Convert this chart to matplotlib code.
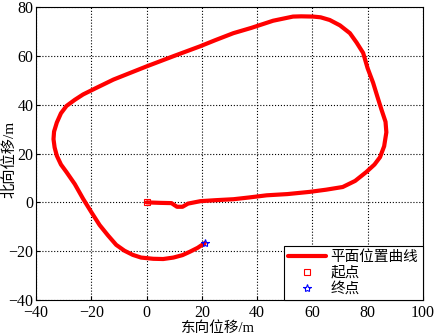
import matplotlib
matplotlib.use('Agg')
import matplotlib.pyplot as plt

# trajectory (east, north in metres)
east = [0, 5, 9, 11, 13, 15, 19.5, 25, 31.5, 37, 43.5, 51, 59, 65, 71, 75.5, 79.5,
        82.5, 84.5, 86, 86.8, 86.5, 85, 83.5, 82, 80, 78.4, 76, 73.6, 70, 66.3,
        63, 60.3, 56, 53, 45.8, 38, 31.4, 25, 19.3, 10, 0, -6, -12, -18, -23,
        -26, -29, -31, -32.5, -33.5, -33.7, -33.3, -32.5, -31, -29, -26, -23,
        -20, -17, -14, -11, -8, -5, -2, 2.4, 6, 9.7, 13, 15.7, 18.5, 21]
north = [0, -0.2, -0.3, -1.8, -1.8, -0.5, 0.5, 0.9, 1.3, 2.0, 2.9, 3.4, 4.3, 5.2,
         6.3, 8.8, 12.4, 15.5, 18.5, 23, 28.7, 33, 38.1, 43.5, 49, 55, 61.2,
         65.5, 69.3, 72.5, 74.7, 75.8, 76.1, 76.2, 76.1, 74.4, 71.5, 69.3, 66.5,
         63.9, 60, 55.7, 53, 50.3, 47, 44.2, 42, 39.5, 36.5, 32.7, 29, 25.9,
         22.5, 19.1, 15.5, 12.4, 7.5, 1.5, -4, -9.3, -13.5, -17.4, -19.8, -21.5,
         -22.6, -23.1, -23.2, -22.6, -21.6, -20.2, -18.6, -16.7]
start = (0, 0)
end = (21, -16.7)
labels = ['平面位置曲线', '起点', '终点']

plt.rcParams['font.family'] = ['Liberation Serif', 'Noto Sans CJK SC']
plt.rcParams['font.size'] = 12

fig = plt.figure(figsize=(4.35, 3.36), dpi=100)
ax = fig.add_axes([0.083, 0.107, 0.889, 0.872])

ax.plot(east, north, color='red', lw=3, solid_capstyle='round', label=labels[0])
ax.plot(*start, 's', mfc='none', mec='red', ms=5, mew=0.8, label=labels[1])
ax.plot(*end, '*', mfc='none', mec='blue', ms=6, mew=0.8, label=labels[2])

ax.set_xlim(-40, 100)
ax.set_ylim(-40, 80)
ax.set_xticks(range(-40, 101, 20))
ax.set_yticks(range(-40, 81, 20))
ax.grid(True, color='black', linestyle=':', linewidth=0.8)
ax.tick_params(direction='in', length=3, labelsize=11.5)
ax.tick_params(axis='x', pad=3.5)
ax.tick_params(axis='y', pad=2)
for s in ax.spines.values():
    s.set_linewidth(0.8)

ax.set_xlabel('东向位移/m', fontsize=10.5, labelpad=0)
ax.xaxis.label.set_x(0.47)
ax.set_ylabel('北向位移/m', fontsize=11)
ax.yaxis.set_label_coords(-0.05, 0.48)

leg = ax.legend(loc='lower right', borderaxespad=0, fancybox=False,
                edgecolor='black', framealpha=1, fontsize=10.5,
                handlelength=2.6, labelspacing=0.15, borderpad=0.3,
                handletextpad=0.3)
leg.get_frame().set_linewidth(0.8)

fig.savefig('out.png', dpi=100)
